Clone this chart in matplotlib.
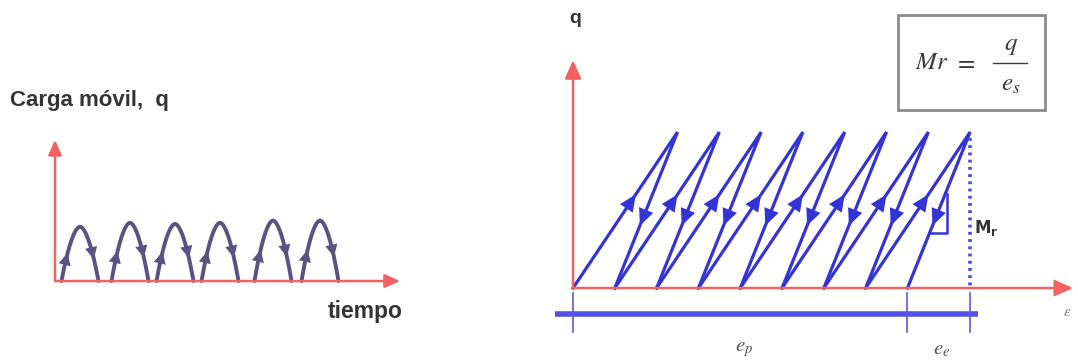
import matplotlib.pyplot as plt
from matplotlib.patches import Rectangle
import numpy as np

# carga movil: pasadas en el tiempo (instante del pico, intensidad)
t_picos = [2.5, 7.5, 12.0, 16.5, 21.8, 26.5]
q_picos = [0.97, 1.04, 1.02, 1.04, 1.08, 1.08]

# ciclos carga-deformacion: deformacion al descargar y al cargar
e_base = [0, 1, 2, 3, 4, 5, 6, 7, 8]
e_pico = [2.5, 3.5, 4.5, 5.5, 6.5, 7.5, 8.5, 9.5]
q_max = 1.0

rojo = '#f26262'
azul = '#3434d6'
morado = '#5a5280'
texto = '#333333'


def flecha(ax, x0, y0, x1, y1, color, ms=9, hw=0.5):
    # solo la punta, orientada de (x0, y0) hacia (x1, y1)
    ax.annotate('', xy=(x1, y1), xytext=(x0, y0),
                arrowprops=dict(arrowstyle=f'-|>,head_length=1.1,head_width={hw}',
                                color=color, lw=0, shrinkA=0, shrinkB=0,
                                mutation_scale=ms))


def eje(ax, x0, y0, x1, y1, ms=10, lw=1.8):
    ax.annotate('', xy=(x1, y1), xytext=(x0, y0),
                arrowprops=dict(arrowstyle='-|>,head_length=1.0,head_width=0.45',
                                color=rojo, lw=lw, shrinkA=0, shrinkB=0,
                                mutation_scale=ms))


fig = plt.figure(figsize=(10.78, 3.62), dpi=100)

# ---- izquierda: carga movil vs tiempo ----
ax1 = fig.add_axes([0, 0, 540 / 1078, 1])
ax1.set_xlim(-5.5, 48.5)
ax1.set_ylim(-1.446, 5.018)
ax1.axis('off')

eje(ax1, 0, 0, 0, 2.52, ms=9)
eje(ax1, 0, 0, 34.5, 0, ms=9)

w = 1.85
u = np.linspace(-1, 1, 301)
for t, h in zip(t_picos, q_picos):
    x = t + w * u
    y = h * (1 - np.abs(u) ** 1.8)
    ax1.plot(x, y, color=morado, lw=2.8, solid_capstyle='round')
    # subida por la rama izquierda, bajada por la derecha
    i = np.argmin(np.abs(y[:150] - 0.52 * h))
    flecha(ax1, x[i - 4], y[i - 4], x[i], y[i], morado, ms=8, hw=0.55)
    j = 150 + np.argmin(np.abs(y[150:] - 0.40 * h))
    flecha(ax1, x[j - 4], y[j - 4], x[j], y[j], morado, ms=8, hw=0.55)

ax1.text(-4.5, 3.23, 'Carga móvil,  q', fontsize=16, fontweight='bold',
         color=texto, family='Liberation Sans', va='center', ha='left')
ax1.text(27.3, -0.54, 'tiempo', fontsize=16.5, fontweight='bold',
         color=texto, family='Liberation Sans', va='center', ha='left')

# ---- derecha: carga vs deformacion ----
ax2 = fig.add_axes([540 / 1078, 0, 538 / 1078, 1])
ax2.set_xlim(-0.79, 12.08)
ax2.set_ylim(-0.474, 1.846)
ax2.axis('off')

eje(ax2, 0, 0, 0, 1.46, ms=11)
eje(ax2, 0, 0, 11.96, 0, ms=11)

for k, p in enumerate(e_pico):
    b0, b1 = e_base[k], e_base[k + 1]
    ax2.plot([b0, p, b1], [0, q_max, 0], color=azul, lw=2.3,
             solid_joinstyle='miter')
    # carga (sube) y descarga (baja)
    fs, fb = 0.60, 0.40
    xs = b0 + fs * (p - b0)
    flecha(ax2, xs - 0.05 * (p - b0), (fs - 0.05) * q_max, xs, fs * q_max, azul, ms=11)
    xb = b1 + fb * (p - b1)
    flecha(ax2, xb + 0.05 * (p - b1), (fb + 0.05) * q_max, xb, fb * q_max, azul, ms=11)

e_p = e_base[-1]
e_t = e_pico[-1]

# triangulo de pendiente sobre la ultima descarga
ya, yb = 0.35, 0.60
xa = e_p + ya * (e_t - e_p)
xb = e_p + yb * (e_t - e_p) + 0.05
ax2.plot([xa, xb, xb], [ya, ya, yb], color=azul, lw=1.8)

ax2.plot([e_t, e_t], [q_max * 0.96, 0], color='#4a4ae2', lw=2.6,
         ls=(0, (0.8, 1.2)))
ax2.text(e_t + 0.1, 0.385, r'$\mathbf{M}_\mathbf{r}$', fontsize=12,
         color=texto, math_fontfamily='dejavusans', va='center', ha='left')

# barra de deformaciones
ax2.plot([-0.43, e_t + 0.19], [-0.167, -0.167], color='#5252e4', lw=4,
         solid_capstyle='butt')
for xt in [0, e_p, e_t]:
    ax2.plot([xt, xt], [-0.03, -0.28], color='#5a5ae4', lw=1.2)
ax2.text(e_p / 2 + 0.1, -0.39, r'$e_p$', fontsize=15, color='#555555',
         math_fontfamily='stix', ha='center', va='center')
ax2.text((e_p + e_t) / 2 + 0.08, -0.39, r'$e_e$', fontsize=15, color='#555555',
         math_fontfamily='stix', ha='center', va='center')
ax2.text(11.72, -0.15, r'$\varepsilon$', fontsize=11, color='#777777',
         math_fontfamily='stix', ha='left', va='center')

ax2.text(0.05, 1.73, 'q', fontsize=14, fontweight='bold', color=texto,
         family='Liberation Sans', ha='center', va='center')

# recuadro con el modulo resiliente  Mr = q / e_s
ax2.add_patch(Rectangle((7.78, 1.141), 3.51, 0.609, fill=False,
                        edgecolor='#8c8c8c', lw=2))
ax2.text(8.59, 1.449, r'$Mr$', fontsize=18, color='#3a3a3a',
         math_fontfamily='stix', ha='center', va='center')
ax2.text(9.38, 1.449, r'$=$', fontsize=18, color='#3a3a3a',
         math_fontfamily='stix', ha='center', va='center')
ax2.text(10.48, 1.555, r'$q$', fontsize=18, color='#3a3a3a',
         math_fontfamily='stix', ha='center', va='center')
ax2.plot([10.05, 10.85], [1.442, 1.442], color='#3a3a3a', lw=1.0)
ax2.text(10.46, 1.31, r'$e_s$', fontsize=18, color='#3a3a3a',
         math_fontfamily='stix', ha='center', va='center')

fig.savefig('out.png', dpi=100)
